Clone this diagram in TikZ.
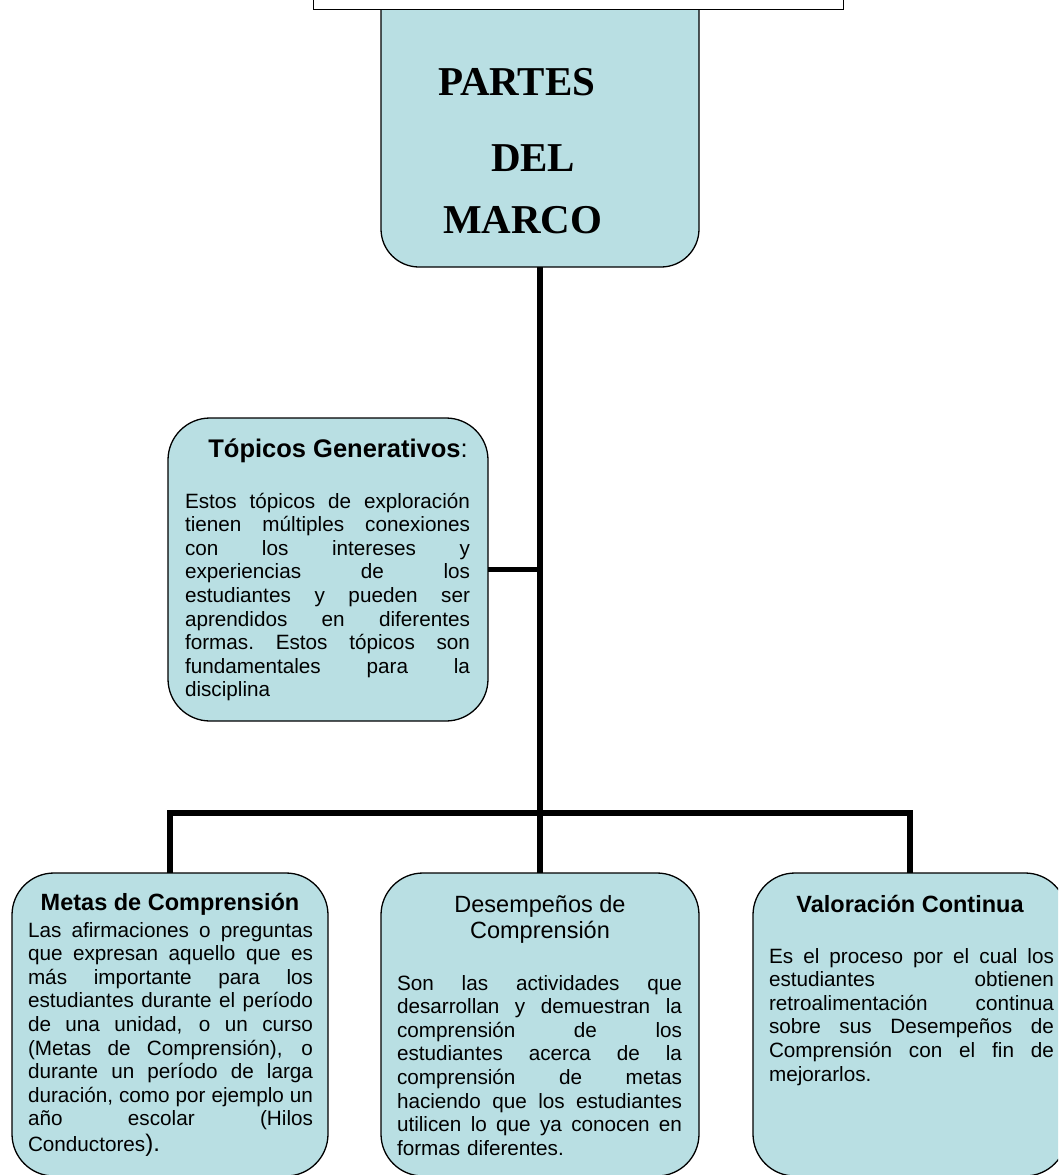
\documentclass[tikz,border=0pt]{standalone}
\usepackage{fontspec}
\setmainfont{Liberation Sans}
\newfontfamily\partesfont{Liberation Serif}
\definecolor{boxfill}{RGB}{185,223,227}
\newlength\tw
\setlength\tw{285pt}
\newcommand{\jbox}[1]{\leavevmode\hbox to\tw{\spaceskip=0.278em plus 1fil\xspaceskip=\spaceskip #1}}
\newcommand{\jl}[1]{\jbox{#1}\\}
\begin{document}
\begin{tikzpicture}[x=1pt,y=-1pt,
  box/.style={draw=black, line width=1.3pt, fill=boxfill, rounded corners=42pt, inner sep=0pt, outer sep=0pt},
  conn/.style={line width=5.5pt, draw=black},
  body/.style={inner sep=0pt, outer sep=0pt, text width=\tw, align=left, anchor=base west, font=\fontsize{20.7}{23.6}\selectfont},
  ttl/.style={inner sep=0pt, outer sep=0pt, anchor=base, font=\fontsize{23.5}{27}\selectfont\bfseries},
  big/.style={inner sep=0pt, outer sep=0pt, anchor=base west, font=\fontsize{41}{46}\selectfont\partesfont\bfseries}]
\useasboundingbox (0,0) rectangle (1058,1175);
\clip (0,0) rectangle (1058,1175);

% boxes
\node[box, rounded corners=38pt, minimum width=318pt, minimum height=307pt] (partes) at (540,113.5) {};
\node[draw=black, line width=1pt, fill=white, inner sep=0pt, outer sep=0pt, minimum width=530pt, minimum height=80pt] (header) at (578,-31) {};
\node[box, minimum width=320pt, minimum height=303pt] (topicos) at (328,569.5) {};
\node[box, minimum width=316pt, minimum height=303pt] (metas) at (170,1024.5) {};
\node[box, minimum width=318pt, minimum height=303pt] (desempenos) at (540,1024.5) {};
\node[box, minimum width=314pt, minimum height=303pt] (valoracion) at (910,1024.5) {};

% connectors
\coordinate (bar) at (540,813);
\draw[conn] (partes.south) -- (desempenos.north);
\draw[conn] (topicos.east) -- (topicos.east -| partes.south);
\draw[conn] (metas.north) |- (bar) -| (valoracion.north);

% title
\node[big] (tPartes) at (438,95) {PARTES};
\node[big] (tDel) at (491,171.7) {DEL};
\node[big] (tMarco) at (443,233.3) {MARCO};

% Topicos
\node[ttl, font=\fontsize{25.5}{29}\selectfont\bfseries] (topT) at (338,457) {Tópicos Generativos\mdseries:};
\node[body] (topB) at (185,508) {\jl{Estos tópicos de exploración}\jl{tienen múltiples conexiones}\jl{con los intereses y}\jl{experiencias de los}\jl{estudiantes y pueden ser}\jl{aprendidos en diferentes}\jl{formas. Estos tópicos son}\jl{fundamentales para la}disciplina};

% Metas
\node[ttl] (metT) at (170,910) {Metas de Comprensión};
\node[body] (metB) at (28,937) {\jl{Las afirmaciones o preguntas}\jl{que expresan aquello que es}\jl{más importante para los}\jl{estudiantes durante el período}\jl{de una unidad, o un curso}\jl{(Metas de Comprensión), o}\jl{durante un período de larga}\jl{duración, como por ejemplo un}\jbox{año escolar (Hilos}\\[2.5pt]Conductores{\fontsize{24}{27}\selectfont).}};

% Desempenos
\node[ttl, font=\fontsize{23.5}{27}\selectfont] (desT1) at (540,912) {Desempeños de};
\node[ttl, font=\fontsize{23.5}{27}\selectfont] (desT2) at (540,938) {Comprensión};
\node[body] (desB) at (397,990) {\jl{Son las actividades que}\jl{desarrollan y demuestran la}\jl{comprensión de los}\jl{estudiantes acerca de la}\jl{comprensión de metas}\jl{haciendo que los estudiantes}\jl{utilicen lo que ya conocen en}formas diferentes.};

% Valoracion
\node[ttl] (valT) at (910,912) {Valoración Continua};
\node[body] (valB) at (769,963) {\jl{Es el proceso por el cual los}\jl{estudiantes obtienen}\jl{retroalimentación continua}\jl{sobre sus Desempeños de}\jl{Comprensión con el fin de}mejorarlos.};
\end{tikzpicture}
\end{document}
